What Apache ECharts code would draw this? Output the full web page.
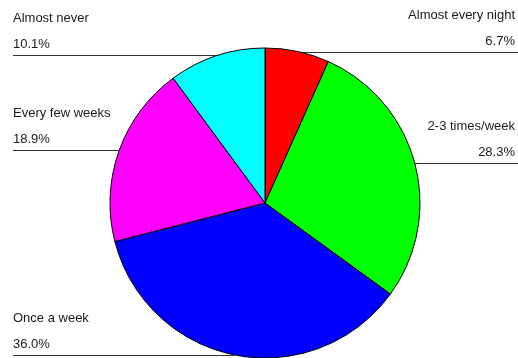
<!DOCTYPE html>
<html>
<head>
<meta charset="utf-8">
<style>
  html, body { margin: 0; padding: 0; background: #fff; }
  #chart { width: 518px; height: 358px; }
</style>
<script src="https://cdn.jsdelivr.net/npm/echarts@6/dist/echarts.min.js"></script>
</head>
<body>
<div id="chart"></div>
<script>
// How often respondents do it, share of answers in percent
const categories = ['Almost every night', '2-3 times/week', 'Once a week', 'Every few weeks', 'Almost never'];
const shares = [6.7, 28.3, 36.0, 18.9, 10.1];
const sliceColors = ['#FF0000', '#00FF00', '#0000FF', '#FF00FF', '#00FFFF'];

// Pie geometry (pixels)
const CX = 265, CY = 203, R = 155;
const W = 518;

// Where each label sits: which side, and the height of its underline
const labelSpots = [
  { side: 'right', lineY: 52 },
  { side: 'right', lineY: 163 },
  { side: 'left',  lineY: 355 },
  { side: 'left',  lineY: 150 },
  { side: 'left',  lineY: 55 }
];

const chart = echarts.init(document.getElementById('chart'), null, { renderer: 'canvas' });

// x where a horizontal line at height y meets the pie's rim
function rimX(y, side) {
  const dy = y - CY;
  const dx = Math.sqrt(Math.max(0, R * R - dy * dy));
  return side === 'left' ? CX - dx : CX + dx;
}

chart.setOption({
  animation: false,
  backgroundColor: '#ffffff',
  series: [{
    type: 'pie',
    center: [CX, CY],
    radius: R,
    startAngle: 90,
    clockwise: true,
    avoidLabelOverlap: false,
    data: categories.map((name, i) => ({
      name: name,
      value: shares[i],
      itemStyle: { color: sliceColors[i] }
    })),
    itemStyle: { borderColor: '#000000', borderWidth: 1 },
    emphasis: { disabled: true },
    label: {
      show: true,
      position: 'outside',
      formatter: p => p.name + '\n' + p.value.toFixed(1) + '%',
      fontFamily: 'Liberation Sans, Arial, sans-serif',
      fontSize: 13,
      lineHeight: 26,
      color: '#1a1a1a'
    },
    labelLine: {
      show: true,
      lineStyle: { color: '#333333', width: 1 }
    },
    labelLayout: function (params) {
      const spot = labelSpots[params.dataIndex];
      const y = spot.lineY;
      if (spot.side === 'left') {
        return {
          x: 13,
          y: y + 2,
          align: 'left',
          verticalAlign: 'bottom',
          labelLinePoints: [[rimX(y, 'left'), y + 0.5], [rimX(y, 'left'), y + 0.5], [13, y + 0.5]]
        };
      }
      return {
        x: W - 3,
        y: y + 2,
        align: 'right',
        verticalAlign: 'bottom',
        labelLinePoints: [[rimX(y, 'right'), y + 0.5], [rimX(y, 'right'), y + 0.5], [W, y + 0.5]]
      };
    }
  }]
});
</script>
</body>
</html>
